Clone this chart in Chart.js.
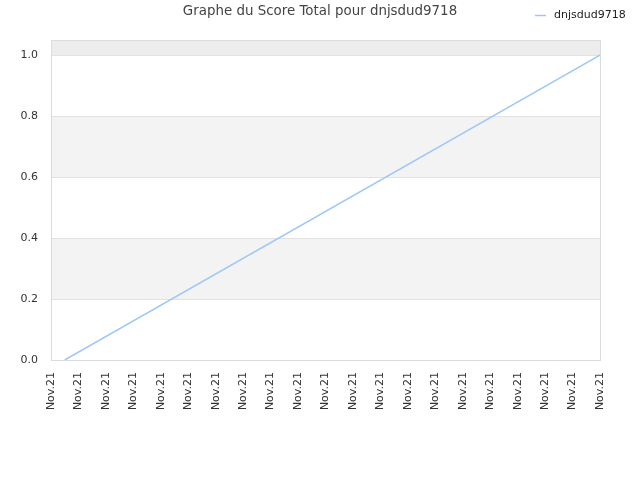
<!DOCTYPE html>
<html>
<head>
<meta charset="utf-8">
<script src="https://cdn.jsdelivr.net/npm/chart.js@4"></script>
<style>
  html, body { margin: 0; padding: 0; background: #fff; }
  #wrap { width: 640px; height: 480px; }
</style>
</head>
<body>
<div id="wrap"><canvas id="chart" width="640" height="480"></canvas></div>
<script>
// categories on the x axis (all the same day)
const xLabels = [
    "Nov.21", "Nov.21", "Nov.21", "Nov.21", "Nov.21", "Nov.21", "Nov.21",
    "Nov.21", "Nov.21", "Nov.21", "Nov.21", "Nov.21", "Nov.21", "Nov.21",
    "Nov.21", "Nov.21", "Nov.21", "Nov.21", "Nov.21", "Nov.21", "Nov.21"
];
const chartTitle = "Graphe du Score Total pour dnjsdud9718";
const seriesName = "dnjsdud9718";
const seriesX = [0.5, 20];
const seriesY = [0, 1];
const yTicks = [0, 0.2, 0.4, 0.6, 0.8, 1.0];

const FONT = "'DejaVu Sans', sans-serif";
const LINE_COLOR = "#9cc7f7";

// background bands, frame, title and legend
const decor = {
    id: 'decor',
    beforeDraw(chart) {
        const ctx = chart.ctx;
        const a = chart.chartArea;
        const y = chart.scales.y;
        ctx.save();
        const bands = [[0.2, 0.4, "#f3f3f3"], [0.6, 0.8, "#f3f3f3"], [1.0, y.max, "#ededed"]];
        bands.forEach(b => {
            const top = y.getPixelForValue(b[1]);
            const bottom = y.getPixelForValue(b[0]);
            ctx.fillStyle = b[2];
            ctx.fillRect(a.left, top, a.right - a.left, bottom - top);
        });
        ctx.restore();
    },
    afterDraw(chart) {
        const ctx = chart.ctx;
        const a = chart.chartArea;
        ctx.save();
        ctx.strokeStyle = "#dcdcdc";
        ctx.lineWidth = 1;
        ctx.strokeRect(a.left + 0.5, a.top + 0.5, a.right - a.left, a.bottom - a.top);
        // title, centred on the whole canvas
        ctx.fillStyle = "#444";
        ctx.font = "13.4px " + FONT;
        ctx.textAlign = "center";
        ctx.textBaseline = "middle";
        ctx.fillText(chartTitle, chart.width / 2, 12);
        // legend
        ctx.strokeStyle = LINE_COLOR;
        ctx.lineWidth = 1.5;
        ctx.beginPath();
        ctx.moveTo(535, 15.5);
        ctx.lineTo(546, 15.5);
        ctx.stroke();
        ctx.fillStyle = "#222";
        ctx.font = "11px " + FONT;
        ctx.textAlign = "left";
        ctx.fillText(chart.data.datasets[0].label, 554, 15);
        ctx.restore();
    }
};

new Chart(document.getElementById('chart'), {
    type: 'line',
    data: {
        datasets: [{
            label: seriesName,
            data: seriesX.map((x, i) => ({ x: x, y: seriesY[i] })),
            borderColor: LINE_COLOR,
            borderWidth: 1.5,
            pointRadius: 0,
            fill: false,
            tension: 0
        }]
    },
    options: {
        responsive: false,
        animation: false,
        layout: { padding: { top: 40, left: 0, right: 40, bottom: 0 } },
        plugins: {
            legend: { display: false },
            tooltip: { enabled: false },
            title: { display: false }
        },
        scales: {
            x: {
                type: 'linear',
                min: 0,
                max: xLabels.length - 1,
                grid: { display: false },
                border: { display: false },
                ticks: {
                    stepSize: 1,
                    autoSkip: false,
                    minRotation: 90,
                    maxRotation: 90,
                    color: "#333",
                    padding: 4,
                    font: { family: FONT, size: 11 },
                    callback: v => xLabels[v]
                },
                afterFit: s => { s.height = 120; }
            },
            y: {
                min: 0,
                max: 1.05,
                afterBuildTicks: s => { s.ticks = yTicks.map(v => ({ value: v })); },
                grid: { color: "#e2e2e2", drawTicks: false },
                border: { display: false },
                ticks: {
                    color: "#333",
                    padding: 13,
                    font: { family: FONT, size: 11 },
                    callback: v => v.toFixed(1)
                },
                afterFit: s => { s.width = 51; }
            }
        }
    },
    plugins: [decor]
});
</script>
</body>
</html>
